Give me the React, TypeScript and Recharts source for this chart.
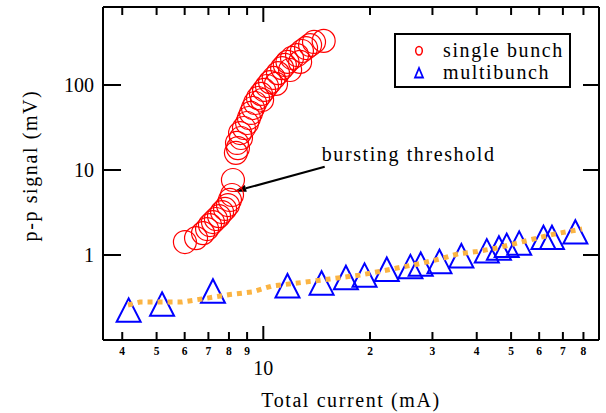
import React from 'react'
import { ScatterChart, Scatter, XAxis, YAxis, ReferenceLine, Legend } from 'recharts'

const FONT = '"Liberation Serif", serif'
const WORD_SPACING = 1.6

// single bunch (red circles)
const singleCurrent = [
  6.01, 6.46, 6.76, 6.94, 7.07, 7.21, 7.35, 7.5, 7.65, 7.8, 7.95, 8.05, 8.16, 8.21,
  8.37, 8.48, 8.43, 8.65, 8.6, 8.82, 9.0, 9.11, 9.23, 9.35, 9.48, 9.66, 9.85, 9.92,
  10.05, 10.24, 10.45, 10.7, 10.86, 11.0, 11.3, 11.5, 11.7, 11.9, 12.05, 12.45, 12.7,
  12.85, 13.2, 13.55, 13.9, 14.8,
]
const singleSignal = [
  1.42, 1.58, 1.81, 2.02, 2.25, 2.44, 2.65, 2.87, 3.2, 3.48, 3.87, 4.44, 5.08, 7.63,
  15.9, 18.1, 20.8, 23.8, 27.2, 31.2, 35.7, 40.9, 46.9, 53.6, 61.4, 70.3, 78.4, 66.6,
  87.4, 97.3, 108, 121, 103, 138, 158, 172, 187, 150, 208, 225, 187,
  251, 272, 295, 321, 330,
]

// multibunch (blue triangles)
const multiCurrent = [
  4.17, 5.18, 7.21, 11.7, 14.6, 17.1, 19.3, 22.3, 26.0, 27.8, 31.4, 36.2, 42.7, 46.2,
  48.6, 52.7, 61.7, 65.2, 75.9,
]
const multiSignal = [
  0.225, 0.265, 0.377, 0.435, 0.469, 0.544, 0.58, 0.68, 0.73, 0.78, 0.84, 0.98, 1.12,
  1.21, 1.3, 1.38, 1.61, 1.61, 1.87,
]

// fit (orange dotted)
const fitCurrent = [
  4.15, 4.49, 5.9, 6.71, 8.05, 9.29, 10.58, 12.85, 15.4, 18.7, 21.3, 24.3, 27.7, 31.5,
  35.4, 40.1, 45.6, 52.0, 59.2, 66.5, 79.3,
]
const fitSignal = [
  0.258, 0.28, 0.28, 0.304, 0.343, 0.367, 0.432, 0.475, 0.522, 0.58, 0.64, 0.713, 0.794,
  0.897, 1.03, 1.1, 1.21, 1.38, 1.58, 1.77, 2.02,
]

const xTicks = [4, 5, 6, 7, 8, 9, 10, 20, 30, 40, 50, 60, 70, 80]
const yTicks = [1, 10, 100]
const legendNames = ['single bunch', 'multibunch']

const single = singleCurrent.map((x, i) => ({ x, y: singleSignal[i] }))
const multi = multiCurrent.map((x, i) => ({ x, y: multiSignal[i] }))
const fit = fitCurrent.map((x, i) => ({ x, y: fitSignal[i] }))

const circle = (p: any) => (
  <circle cx={p.cx} cy={p.cy} r={11.5} fill="none" stroke="#ff0000" strokeWidth={1.2} />
)

const triangle = (p: any) => (
  <path
    d={`M${p.cx},${p.cy - 11.7}L${p.cx + 12},${p.cy + 11.7}L${p.cx - 12},${p.cy + 11.7}Z`}
    fill="none"
    stroke="#0000ff"
    strokeWidth={2}
  />
)

const BottomTick = (p: any) => {
  const v = p.payload.value
  const major = v === 10
  return (
    <g>
      <line x1={p.x} x2={p.x} y1={p.y} y2={p.y - (major ? 14 : 8)} stroke="#000" strokeWidth={2} />
      {major ? (
        <text x={p.x} y={p.y + 28} textAnchor="middle" dominantBaseline="central" fontFamily={FONT} fontSize={20} fill="#000">
          10
        </text>
      ) : (
        <text x={p.x} y={p.y + 11} textAnchor="middle" dominantBaseline="central" fontFamily={FONT} fontSize={11.5} fontWeight="bold" fill="#000">
          {v < 10 ? v : v / 10}
        </text>
      )}
    </g>
  )
}

const TopTick = (p: any) => (
  <line x1={p.x} x2={p.x} y1={p.y} y2={p.y + (p.payload.value === 10 ? 15 : 8)} stroke="#000" strokeWidth={2} />
)

const LeftTick = (p: any) => (
  <g>
    <line x1={p.x} x2={p.x + 18} y1={p.y} y2={p.y} stroke="#000" strokeWidth={2} />
    <text x={p.x - 9} y={p.y} textAnchor="end" dominantBaseline="central" fontFamily={FONT} fontSize={20} fill="#000">
      {p.payload.value}
    </text>
  </g>
)

const RightTick = (p: any) => (
  <line x1={p.x} x2={p.x - 16} y1={p.y} y2={p.y} stroke="#000" strokeWidth={2} />
)

const arrow = (p: any) => {
  const { x1, y1, x2, y2 } = p
  const dx = x2 - x1
  const dy = y2 - y1
  const len = Math.sqrt(dx * dx + dy * dy)
  const ux = dx / len
  const uy = dy / len
  const bx = x2 - ux * 13
  const by = y2 - uy * 13
  return (
    <g>
      <line x1={x1} y1={y1} x2={bx} y2={by} stroke="#000" strokeWidth={2} />
      <path d={`M${x2},${y2}L${bx - uy * 3.5},${by + ux * 3.5}L${bx + uy * 3.5},${by - ux * 3.5}Z`} fill="#000" />
      <text x={x1 - 3} y={y1 - 6} fontFamily={FONT} fontSize={20} letterSpacing={WORD_SPACING} fill="#000">
        bursting threshold
      </text>
    </g>
  )
}

const renderLegend = (props: any) => {
  const items = legendNames
    .map((n) => (props.payload || []).find((e: any) => e.value === n))
    .filter(Boolean)
  return (
    <div
      style={{
        border: '2px solid #000',
        width: 177,
        height: 55,
        boxSizing: 'border-box',
        paddingTop: 5,
        fontFamily: FONT,
        fontSize: 20,
        letterSpacing: WORD_SPACING,
        background: '#fff',
      }}
    >
      {items.map((e: any) => (
        <div key={e.value} style={{ display: 'flex', alignItems: 'center', height: 21.5 }}>
          <svg width={47} height={21.5}>
            {e.value === 'single bunch' ? (
              <ellipse cx={23} cy={10.75} rx={3.3} ry={4.2} fill="none" stroke="#ff0000" strokeWidth={1.5} />
            ) : (
              <path d="M23,6L27,15.5L19,15.5Z" fill="none" stroke="#0000ff" strokeWidth={1.8} />
            )}
          </svg>
          <span style={{ lineHeight: '21.5px' }}>{e.value}</span>
        </div>
      ))}
    </div>
  )
}

export default function App() {
  return (
    <div style={{ position: 'absolute', left: 0, top: 0, background: '#fff' }}>
      <ScatterChart width={606} height={413} margin={{ top: 0, right: 0, bottom: 0, left: 0 }}>
        <XAxis
          xAxisId="bottom"
          dataKey="x"
          type="number"
          scale="log"
          domain={[3.53, 88.5]}
          allowDataOverflow
          ticks={xTicks}
          interval={0}
          height={73}
          tickSize={0}
          tickMargin={0}
          tickLine={false}
          axisLine={{ stroke: '#000', strokeWidth: 2 }}
          tick={BottomTick}
          label={({ viewBox }: any) => (
            <text x={viewBox.x + viewBox.width / 2} y={viewBox.y + 60} textAnchor="middle" dominantBaseline="central" fontFamily={FONT} fontSize={20} letterSpacing={WORD_SPACING} fill="#000">
              Total current (mA)
            </text>
          )}
        />
        <XAxis
          xAxisId="top"
          orientation="top"
          dataKey="x"
          type="number"
          scale="log"
          domain={[3.53, 88.5]}
          allowDataOverflow
          ticks={xTicks}
          interval={0}
          height={7}
          tickSize={0}
          tickMargin={0}
          tickLine={false}
          axisLine={{ stroke: '#000', strokeWidth: 2 }}
          tick={TopTick}
        />
        <YAxis
          yAxisId="left"
          dataKey="y"
          type="number"
          scale="log"
          domain={[0.1, 827]}
          allowDataOverflow
          ticks={yTicks}
          interval={0}
          width={103}
          tickSize={0}
          tickMargin={0}
          tickLine={false}
          axisLine={{ stroke: '#000', strokeWidth: 2 }}
          tick={LeftTick}
          label={({ viewBox }: any) => {
            const cx = viewBox.x + 30
            const cy = viewBox.y + viewBox.height / 2 - 8
            return (
              <text x={cx} y={cy} transform={`rotate(-90 ${cx} ${cy})`} textAnchor="middle" dominantBaseline="central" fontFamily={FONT} fontSize={20} letterSpacing={WORD_SPACING} fill="#000">
                p-p signal (mV)
              </text>
            )
          }}
        />
        <YAxis
          yAxisId="right"
          orientation="right"
          dataKey="y"
          type="number"
          scale="log"
          domain={[0.1, 827]}
          allowDataOverflow
          ticks={yTicks}
          interval={0}
          width={7}
          tickSize={0}
          tickMargin={0}
          tickLine={false}
          axisLine={{ stroke: '#000', strokeWidth: 2 }}
          tick={RightTick}
        />
        <Legend
          content={renderLegend}
          layout="horizontal"
          verticalAlign="middle"
          align="center"
          wrapperStyle={{ left: 394, top: 33, width: 177, height: 55 }}
        />
        <Scatter
          name="single bunch"
          data={single}
          xAxisId="bottom"
          yAxisId="left"
          shape={circle}
          fill="#ff0000"
          isAnimationActive={false}
        />
        <Scatter
          name="multibunch"
          data={multi}
          xAxisId="bottom"
          yAxisId="left"
          shape={triangle}
          fill="#0000ff"
          isAnimationActive={false}
        />
        <Scatter
          name="fit"
          data={fit}
          xAxisId="bottom"
          yAxisId="left"
          legendType="none"
          shape={() => <g />}
          line={{ stroke: '#fbb443', strokeWidth: 5, strokeDasharray: '5 5' }}
          isAnimationActive={false}
        />
        <ReferenceLine
          xAxisId="bottom"
          yAxisId="left"
          segment={[
            { x: 14.9, y: 10.9 },
            { x: 8.23, y: 5.55 },
          ]}
          shape={arrow}
        />
      </ScatterChart>
    </div>
  )
}
